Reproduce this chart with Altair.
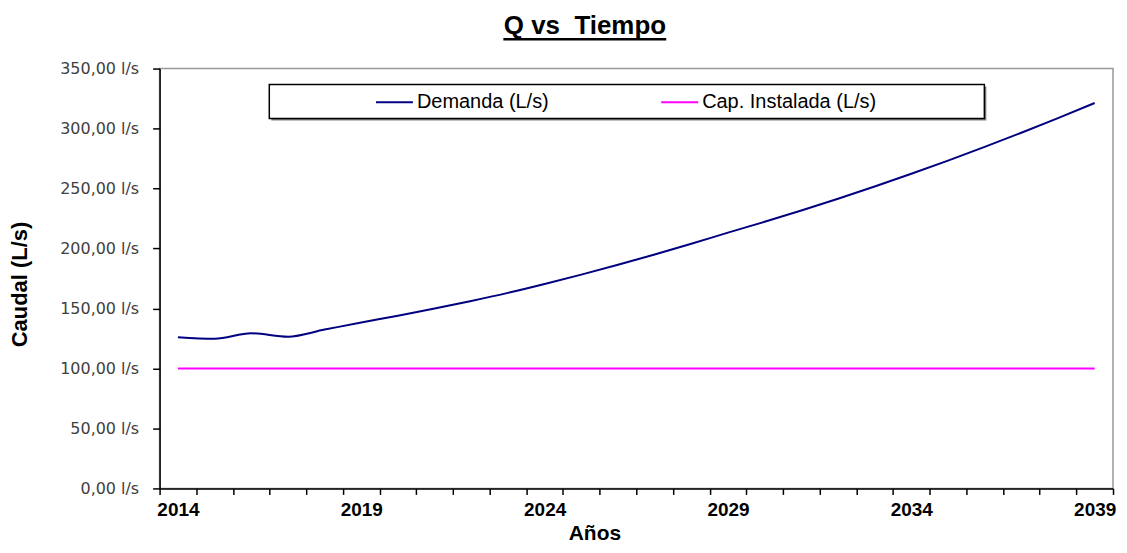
import altair as alt
import pandas as pd

titulo = "Q vs\u00a0 Tiempo"
x_title = "Años"
y_title = "Caudal (L/s)"

years = [2014, 2015, 2016, 2017, 2018, 2019, 2020, 2021, 2022, 2023, 2024, 2025, 2026,
         2027, 2028, 2029, 2030, 2031, 2032, 2033, 2034, 2035, 2036, 2037, 2038, 2039]
demanda = [126.1, 124.8, 129.4, 126.5, 132.4, 138.3, 144.0, 150.0, 156.3, 163.0, 170.4,
           178.2, 186.4, 195.0, 204.0, 213.2, 222.3, 231.7, 241.5, 251.7, 262.3, 273.3,
           284.7, 296.5, 308.7, 321.3]
capacidad = [100.0, 100.0, 100.0, 100.0, 100.0, 100.0, 100.0, 100.0, 100.0, 100.0, 100.0,
             100.0, 100.0, 100.0, 100.0, 100.0, 100.0, 100.0, 100.0, 100.0, 100.0, 100.0,
             100.0, 100.0, 100.0, 100.0]
series = ["Demanda (L/s)", "Cap. Instalada (L/s)"]
colors = ["#000080", "#FF00FF"]
y_ticks = [0, 50, 100, 150, 200, 250, 300, 350]

rows = []
for y, d, c in zip(years, demanda, capacidad):
    rows.append({"year": y, "serie": series[0], "q": d, "o": 0})
    rows.append({"year": y, "serie": series[1], "q": c, "o": 1})
df = pd.DataFrame(rows)

W, H = 956, 421
tick_vals = [years[0] - 0.5 + k for k in range(len(years) + 1)]
half_cat = W / len(years) / 2

x_enc = alt.X(
    "year:Q",
    scale=alt.Scale(domain=[years[0] - 0.5, years[-1] + 0.5], nice=False, zero=False),
    axis=alt.Axis(
        values=tick_vals,
        labelExpr="((datum.value + 0.5 - 2014) % 5 == 0 && datum.value < 2039) ? format(datum.value + 0.5, 'd') : ''",
        labelOffset=half_cat,
        labelFlush=False,
        labelOverlap=False,
        labelBound=False,
        labelFont="Liberation Sans",
        labelFontWeight="bold",
        labelFontSize=19,
        labelColor="#000000",
        labelPadding=6,
        tickSize=6,
        tickColor="#000000",
        tickWidth=1.5,
        domainColor="#000000",
        domainWidth=1.5,
        grid=False,
        title=x_title,
        titleFont="Liberation Sans",
        titleFontWeight="bold",
        titleFontSize=21,
        titleColor="#000000",
        titleX=436,
        titleY=51,
        titleAlign="center",
        titleBaseline="alphabetic",
    ),
)

y_enc = alt.Y(
    "q:Q",
    scale=alt.Scale(domain=[0, 350], nice=False, zero=True),
    axis=alt.Axis(
        values=y_ticks,
        labelExpr="replace(format(datum.value, '.2f'), '.', ',') + ' l/s'",
        labelFont="DejaVu Sans",
        labelFontSize=16,
        labelColor="#404040",
        labelPadding=14,
        tickSize=7,
        tickColor="#000000",
        tickWidth=1.5,
        domainColor="#000000",
        domainWidth=1.5,
        grid=False,
        title=y_title,
        titleFont="Liberation Sans",
        titleFontWeight="bold",
        titleFontSize=22,
        titleColor="#000000",
        titleX=-140,
        titleY=216,
        titleAlign="center",
        titleBaseline="middle",
        titleAngle=270,
    ),
)

lines = alt.Chart(df).mark_line(strokeWidth=2, interpolate="monotone").encode(
    x=x_enc,
    y=y_enc,
    color=alt.Color(
        "serie:N",
        scale=alt.Scale(domain=series, range=colors),
        legend=alt.Legend(
            orient="none",
            legendX=216,
            legendY=14,
            direction="horizontal",
            title=None,
            symbolType="stroke",
            symbolSize=1369,
            symbolStrokeWidth=2,
            labelFont="Liberation Sans",
            labelFontSize=20,
            labelColor="#000000",
            labelOffset=3,
            labelLimit=400,
            columnPadding=108,
            padding=0,
        ),
    ),
    order="o:Q",
)

one = pd.DataFrame({"t": [titulo]})

legend_shadow = alt.Chart(one).mark_rect(fill="#808080").encode(
    x=alt.value(112), x2=alt.value(829), y=alt.value(18), y2=alt.value(52)
)
legend_box = alt.Chart(one).mark_rect(fill="white", stroke="#000000", strokeWidth=1.5).encode(
    x=alt.value(110), x2=alt.value(827), y=alt.value(16), y2=alt.value(50)
)

title_text = alt.Chart(one).mark_text(
    font="Liberation Sans", fontSize=26, fontWeight="bold", color="#000000",
    align="center", baseline="alphabetic"
).encode(text="t:N", x=alt.value(426.5), y=alt.value(-35))

underline = alt.Chart(one).mark_rule(color="#000000", strokeWidth=2.5).encode(
    x=alt.value(344.7), x2=alt.value(508), y=alt.value(-29.5)
)

chart = alt.layer(legend_shadow, legend_box, lines, title_text, underline).properties(
    width=W,
    height=H,
    autosize=alt.AutoSizeParams(type="none"),
    padding={"left": 152, "top": 60, "right": 6, "bottom": 56},
    background="white",
).configure_view(stroke="#999999", strokeWidth=1.5)

chart.save("out.html", embed_options={"renderer": "svg", "actions": False})
